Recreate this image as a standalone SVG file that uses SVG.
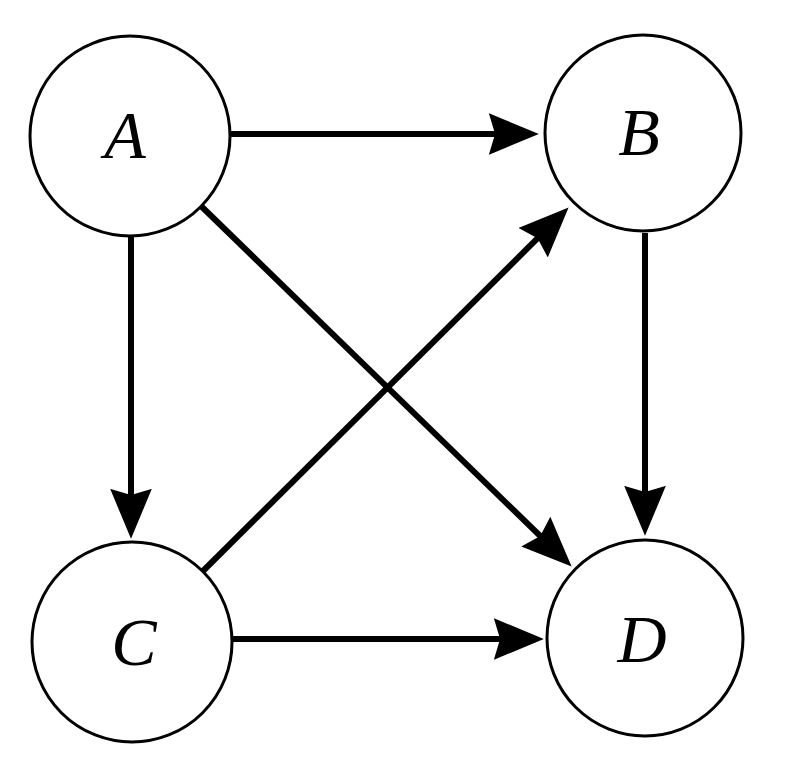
<svg xmlns="http://www.w3.org/2000/svg" width="790" height="780" viewBox="0 0 790 780">
  <style>
    .node circle { fill: #ffffff; stroke: #000000; stroke-width: 3; }
    .node text { font-family: "Liberation Serif", "Times New Roman", serif; font-style: italic; font-size: 68px; fill: #000000; text-anchor: middle; }
    .edge { stroke: #000000; stroke-width: 6; fill: none; marker-end: url(#arrow); }
  </style>
  <defs>
    <marker id="arrow" markerUnits="userSpaceOnUse" markerWidth="50" markerHeight="42" viewBox="0 0 48 40" refX="28" refY="20" orient="auto">
      <path d="M0,0 L48,20 L0,40 L6,20 Z" fill="#000000"/>
    </marker>
  </defs>
  <rect width="790" height="780" fill="#ffffff"/>
  <g id="connectors">
    <line class="edge" x1="230" y1="134" x2="518" y2="134"/>
    <line class="edge" x1="131" y1="236" x2="131" y2="518"/>
    <line class="edge" x1="645" y1="233" x2="645" y2="515"/>
    <line class="edge" x1="232" y1="639" x2="523" y2="639"/>
    <line class="edge" x1="201" y1="206" x2="556.7" y2="552"/>
    <line class="edge" x1="203" y1="571" x2="553.8" y2="222.1"/>
  </g>
  <g id="node-A" class="node">
    <circle cx="130" cy="136" r="100"/>
    <text x="125" y="158">A</text>
  </g>
  <g id="node-B" class="node">
    <circle cx="643" cy="133" r="98"/>
    <text x="639" y="155">B</text>
  </g>
  <g id="node-C" class="node">
    <circle cx="132" cy="642" r="100"/>
    <text x="134" y="665">C</text>
  </g>
  <g id="node-D" class="node">
    <circle cx="645" cy="638" r="98"/>
    <text x="642" y="662">D</text>
  </g>
</svg>
